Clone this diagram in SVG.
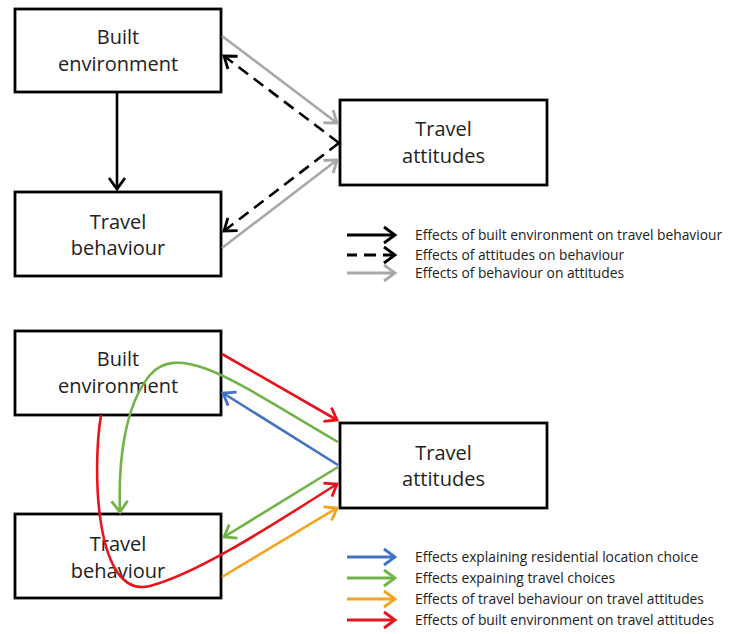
<svg xmlns="http://www.w3.org/2000/svg" width="736" height="634" viewBox="0 0 736 634">
<defs>
<style>
.box{fill:#fff;stroke:#000;stroke-width:2.8}
.lbl{font-family:"Open Sans","Liberation Sans",sans-serif;font-size:20px;fill:#222;text-anchor:middle}
.leg{font-family:"Open Sans","Liberation Sans",sans-serif;font-size:13.8px;fill:#222}
.c{fill:none;stroke-width:2.6;stroke-linecap:butt}
.k{stroke:#000;marker-end:url(#mk)}
.g{stroke:#A8A8A8;marker-end:url(#mg)}
.d{stroke:#000;stroke-dasharray:12 7;marker-end:url(#mk)}
.r{stroke:#E8141B;marker-end:url(#mr)}
.gr{stroke:#72B347;marker-end:url(#mgr)}
.b{stroke:#4472C4;marker-end:url(#mb)}
.o{stroke:#F5A21E;marker-end:url(#mo)}
.lg{stroke-width:3}
</style>
<marker id="mk" markerUnits="userSpaceOnUse" markerWidth="30" markerHeight="30" viewBox="-15 -15 30 30" refX="0" refY="0" orient="auto"><path d="M-11,-8 L0,0 L-11,8" fill="none" stroke="#000" stroke-width="2.8"/></marker>
<marker id="mg" markerUnits="userSpaceOnUse" markerWidth="30" markerHeight="30" viewBox="-15 -15 30 30" refX="0" refY="0" orient="auto"><path d="M-11,-8 L0,0 L-11,8" fill="none" stroke="#A8A8A8" stroke-width="2.8"/></marker>
<marker id="mr" markerUnits="userSpaceOnUse" markerWidth="30" markerHeight="30" viewBox="-15 -15 30 30" refX="0" refY="0" orient="auto"><path d="M-11,-8 L0,0 L-11,8" fill="none" stroke="#E8141B" stroke-width="2.8"/></marker>
<marker id="mgr" markerUnits="userSpaceOnUse" markerWidth="30" markerHeight="30" viewBox="-15 -15 30 30" refX="0" refY="0" orient="auto"><path d="M-11,-8 L0,0 L-11,8" fill="none" stroke="#72B347" stroke-width="2.8"/></marker>
<marker id="mb" markerUnits="userSpaceOnUse" markerWidth="30" markerHeight="30" viewBox="-15 -15 30 30" refX="0" refY="0" orient="auto"><path d="M-11,-8 L0,0 L-11,8" fill="none" stroke="#4472C4" stroke-width="2.8"/></marker>
<marker id="mo" markerUnits="userSpaceOnUse" markerWidth="30" markerHeight="30" viewBox="-15 -15 30 30" refX="0" refY="0" orient="auto"><path d="M-11,-8 L0,0 L-11,8" fill="none" stroke="#F5A21E" stroke-width="2.8"/></marker>
</defs>
<rect width="736" height="634" fill="#fff"/>

<g id="top-built-environment">
<rect class="box" x="15" y="9" width="206" height="83"/>
<text class="lbl" x="118" y="44">Built</text>
<text class="lbl" x="118" y="71">environment</text>
</g>
<g id="top-travel-behaviour">
<rect class="box" x="15" y="192" width="206" height="84"/>
<text class="lbl" x="118" y="229">Travel</text>
<text class="lbl" x="118" y="255">behaviour</text>
</g>
<g id="top-travel-attitudes">
<rect class="box" x="340" y="100" width="207" height="85"/>
<text class="lbl" x="443.5" y="136">Travel</text>
<text class="lbl" x="443.5" y="163">attitudes</text>
</g>

<g id="top-connectors">
<path class="c k" d="M117,93 V189"/>
<path class="c g" d="M222,36 L337,123"/>
<path class="c g" d="M222,248 L337,160"/>
<path class="c d" d="M339,143 L224,56"/>
<path class="c d" d="M339,143 L224,231"/>
</g>

<g id="top-legend">
<path class="c lg k" d="M347,235 H395"/>
<path class="c lg d" d="M347,255 H395" stroke-dashoffset="2"/>
<path class="c lg g" d="M347,273 H395"/>
<text class="leg" x="415" y="240">Effects of built environment on travel behaviour</text>
<text class="leg" x="415" y="260">Effects of attitudes on behaviour</text>
<text class="leg" x="415" y="278">Effects of behaviour on attitudes</text>
</g>

<g id="bottom-built-environment">
<rect class="box" x="15" y="331" width="206" height="84"/>
<text class="lbl" x="118" y="366">Built</text>
<text class="lbl" x="118" y="393">environment</text>
</g>
<g id="bottom-travel-behaviour">
<rect class="box" x="15" y="514" width="206" height="84"/>
<text class="lbl" x="118" y="551">Travel</text>
<text class="lbl" x="118" y="578">behaviour</text>
</g>
<g id="bottom-travel-attitudes">
<rect class="box" x="340" y="423" width="207" height="85"/>
<text class="lbl" x="443.5" y="460">Travel</text>
<text class="lbl" x="443.5" y="486">attitudes</text>
</g>

<g id="bottom-connectors">
<path class="c r" d="M222,354 L337,420"/>
<path class="c gr" d="M338,442 C240,385 180,340 150,375 C125,405 118,460 120,512"/>
<path class="c b" d="M338,465 L223,393"/>
<path class="c gr" d="M338,467 L224,537"/>
<path class="c r" d="M101,415 C92,470 95,600 150,586 C200,573 280,520 337,484"/>
<path class="c o" d="M222,577 L337,508"/>
</g>

<g id="bottom-legend">
<path class="c lg b" d="M347,557 H395"/>
<path class="c lg gr" d="M347,578 H395"/>
<path class="c lg o" d="M347,599 H395"/>
<path class="c lg r" d="M347,620 H395"/>
<text class="leg" x="415" y="562">Effects explaining residential location choice</text>
<text class="leg" x="415" y="583">Effects expaining travel choices</text>
<text class="leg" x="415" y="604">Effects of travel behaviour on travel attitudes</text>
<text class="leg" x="415" y="625">Effects of built environment on travel attitudes</text>
</g>
</svg>
